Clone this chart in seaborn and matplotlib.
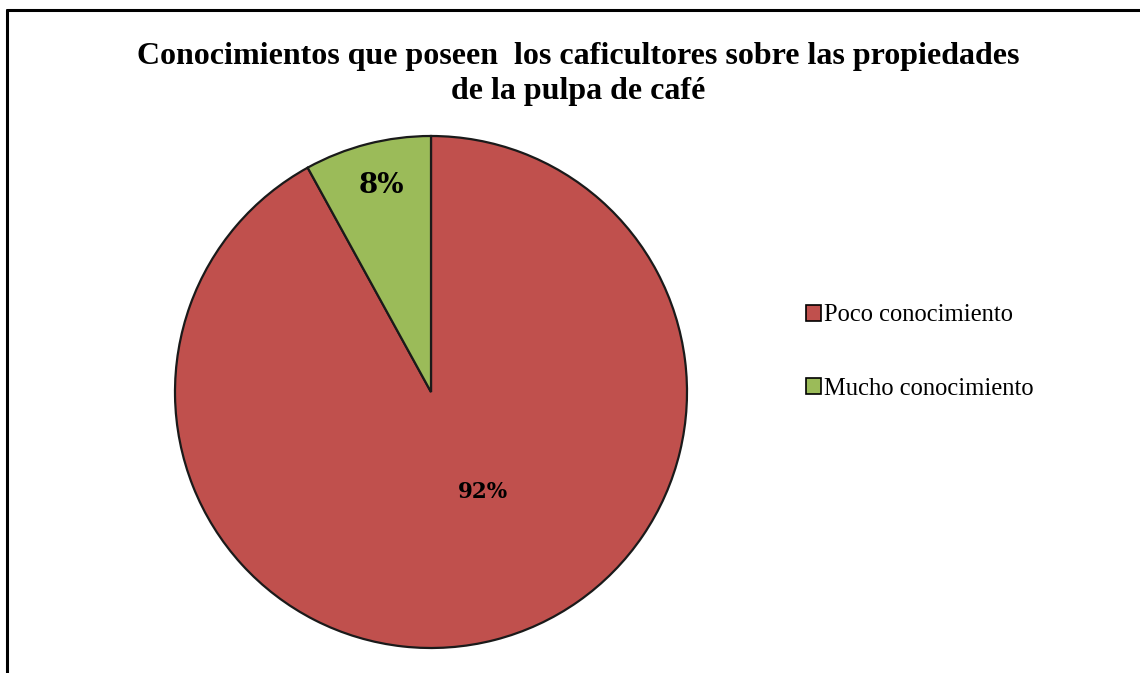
import numpy as np
import matplotlib
matplotlib.use("Agg")
import matplotlib.pyplot as plt
import seaborn as sns

# data
categorias = ["Poco conocimiento", "Mucho conocimiento"]
porcentajes = [92, 8]
colores = ["#C0504D", "#9BBB59"]
titulo = "Conocimientos que poseen  los caficultores sobre las propiedades\nde la pulpa de café"

sns.set_theme(style="white")
plt.rcParams["font.family"] = ["Liberation Serif", "DejaVu Serif"]
plt.rcParams["text.color"] = "black"

fig = plt.figure(figsize=(11.4, 6.73), dpi=100)
fig.patch.set_facecolor("white")

# pie axes: centre ~ (431, 392) px, radius ~ 256 px
ax = fig.add_axes([(431 - 256) / 1140, (673 - 392 - 256) / 673, 512 / 1140, 512 / 673])
wedges, _ = ax.pie(porcentajes, colors=colores, startangle=90, counterclock=False,
                   wedgeprops=dict(edgecolor="#1a1a1a", linewidth=1.6))
ax.set_xlim(-1, 1)
ax.set_ylim(-1, 1)
ax.set_aspect("equal")
ax.axis("off")

# percentage labels (angle in degrees, distance from centre in radii)
pos = [(-62.5, 0.44), (103.6, 0.83)]
sizes = [15.5, 20]
for p, (a, d), s in zip(porcentajes, pos, sizes):
    ang = np.deg2rad(a)
    ax.text(d * np.cos(ang), d * np.sin(ang), f"{p}%", ha="center", va="center",
            fontsize=s, fontweight="bold", family=["DejaVu Serif"], color="black")

fig.text(0.507, 0.890, titulo, ha="center", va="center", fontsize=23,
         fontweight="bold", linespacing=1.24, family=["Liberation Serif"], color="black")

leg = fig.legend(wedges, categorias, loc="center left", bbox_to_anchor=(0.6985, 0.477),
                 frameon=False, fontsize=17.7, handlelength=0.6, handleheight=0.6,
                 handletextpad=0.12, labelspacing=2.08, borderaxespad=0,
                 labelcolor="black")
for h in leg.legend_handles:
    h.set_edgecolor("black")
    h.set_linewidth(1.2)

# frame lines (left and top)
fig.add_artist(plt.Line2D([6.5 / 1140, 6.5 / 1140], [0, 1 - 10 / 673], color="black",
                          linewidth=2.2, transform=fig.transFigure))
fig.add_artist(plt.Line2D([6.5 / 1140, 1], [1 - 10 / 673, 1 - 10 / 673], color="black",
                          linewidth=2.2, transform=fig.transFigure))

fig.savefig("out.png", dpi=100, facecolor="white")
